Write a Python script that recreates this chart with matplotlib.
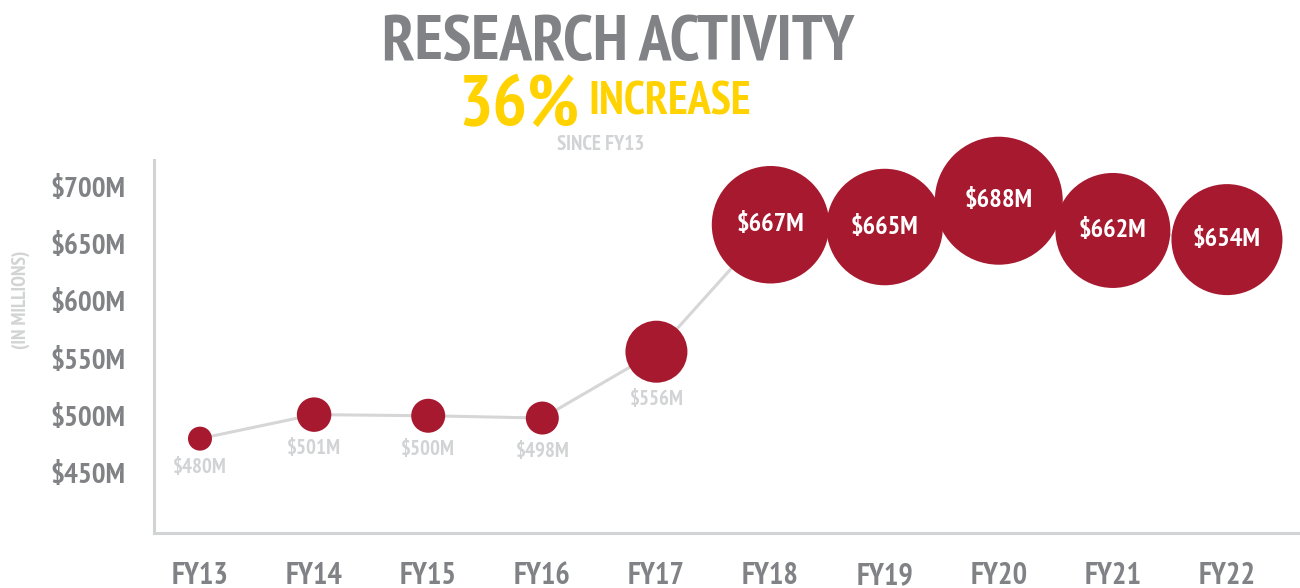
import matplotlib
matplotlib.use("Agg")
import matplotlib.pyplot as plt
import numpy as np

# ---- data ----
years = ["FY13", "FY14", "FY15", "FY16", "FY17", "FY18", "FY19", "FY20", "FY21", "FY22"]
values = [480, 501, 500, 498, 556, 667, 665, 688, 662, 654]
value_labels = ["$480M", "$501M", "$500M", "$498M", "$556M",
                "$667M", "$665M", "$688M", "$662M", "$654M"]
y_ticks = [450, 500, 550, 600, 650, 700]
y_tick_labels = ["$450M", "$500M", "$550M", "$600M", "$650M", "$700M"]

# ---- style ----
DPI = 100
FONT = ["PT Sans Narrow", "Liberation Sans", "DejaVu Sans"]
RED = "#A6192E"
GRAY = "#808285"
LIGHT = "#D1D3D4"
YELLOW = "#FFD200"

plt.rcParams["font.family"] = FONT
plt.rcParams["font.weight"] = "bold"

fig = plt.figure(figsize=(13, 5.88), dpi=DPI)
ax = fig.add_axes([154 / 1300, 1 - 533 / 588, 1 - 154 / 1300, (533 - 160) / 588])

x = np.arange(len(years))
vals = np.array(values, dtype=float)
# bubble radius (pixels) grows linearly with value
r_px = 0.25 * (vals - 432)
sizes = (2 * r_px * 72 / DPI) ** 2

ax.plot(x, vals, color="#D6D6D6", lw=2.2, zorder=1, solid_capstyle="round")
ax.scatter(x, vals, s=sizes, color=RED, zorder=2, linewidths=0, clip_on=False)

for xi, v, lab, r in zip(x, vals, value_labels, r_px):
    if r > 40:
        ax.annotate(lab, (xi, v), ha="center", va="center", color="white",
                    fontsize=19, fontweight="bold", zorder=3)
    else:
        ax.annotate(lab, (xi, v), xytext=(0, -(r + 17) * 72 / DPI),
                    textcoords="offset points", ha="center", va="center",
                    color=LIGHT, fontsize=15, fontweight="bold", zorder=3)

ax.set_xlim(-0.403, 9.64)
ax.set_ylim(397.5, 723.6)
ax.set_yticks(y_ticks)
ax.set_yticklabels(y_tick_labels, fontsize=21, color=GRAY, fontweight="bold")
ax.set_xticks(x)
ax.set_xticklabels(years, fontsize=22, color=GRAY, fontweight="bold")
ax.tick_params(axis="both", length=0)
ax.tick_params(axis="y", pad=21)
ax.tick_params(axis="x", pad=21)

for s in ["top", "right"]:
    ax.spines[s].set_visible(False)
for s in ["left", "bottom"]:
    ax.spines[s].set_color(LIGHT)
    ax.spines[s].set_linewidth(2.2)
ax.patch.set_alpha(0)

# ---- titles ----
fig.text(618 / 1300, 1 - 60 / 588, "RESEARCH ACTIVITY", ha="center", va="baseline",
         fontsize=47, color=GRAY, fontweight="bold")
fig.text(579 / 1300, 1 - 125 / 588, "36%", ha="right", va="baseline",
         fontsize=52, color=YELLOW, fontweight="bold")
fig.text(588 / 1300, 1 - 115 / 588, "INCREASE", ha="left", va="baseline",
         fontsize=33, color=YELLOW, fontweight="bold")
fig.text(601 / 1300, 1 - 150 / 588, "SINCE FY13", ha="center", va="baseline",
         fontsize=15, color=LIGHT, fontweight="bold")
fig.text(21 / 1300, 1 - 300 / 588, "(IN MILLIONS)", ha="center", va="center",
         rotation=90, fontsize=14, color=LIGHT, fontweight="bold")

fig.savefig("out.png", dpi=DPI)
